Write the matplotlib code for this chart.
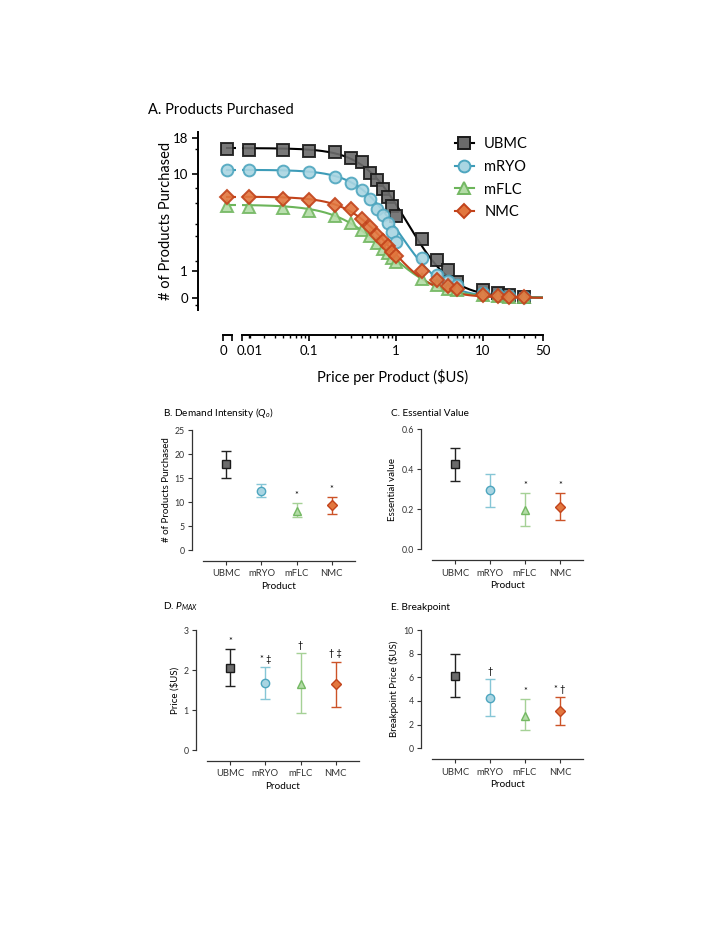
import numpy as np
import matplotlib
matplotlib.use('Agg')
import matplotlib.pyplot as plt
from matplotlib.lines import Line2D
from matplotlib.ticker import NullFormatter

plt.rcParams['font.family'] = ['Lato', 'DejaVu Sans']
plt.rcParams['mathtext.fontset'] = 'custom'
plt.rcParams['mathtext.it'] = 'Lato:italic'
plt.rcParams['mathtext.rm'] = 'Lato'

# ---- data ----
products = ['UBMC', 'mRYO', 'mFLC', 'NMC']
prices = [0, 0.02, 0.05, 0.1, 0.2, 0.3, 0.4, 0.5, 0.6, 0.7, 0.8, 0.9,
          1, 2, 3, 4, 5, 10, 15, 20, 30]

ubmc_q = [15.0, 14.9, 14.9, 14.6, 14.3, 13.1, 12.2, 10.3, 9.1, 7.8, 6.7, 5.7,
          4.7, 2.84, 1.57, 1.04, 0.54, 0.27, 0.16, 0.10, 0.03]
mryo_q = [10.7, 10.8, 10.6, 10.45, 9.66, 8.64, 7.7, 6.5, 5.4, 4.8, 4.1, 3.3,
          2.59, 1.66, 0.85, 0.58, 0.45, 0.15, 0.08, 0.06, 0.03]
mflc_q = [5.66, 5.6, 5.5, 5.14, 4.66, 4.1, 3.5, 3.0, 2.55, 2.17, 1.93, 1.66,
          1.43, 0.68, 0.45, 0.3, 0.25, 0.1, 0.06, 0.04, 0.02]
nmc_q = [6.75, 6.75, 6.5, 6.4, 5.85, 5.4, 4.4, 3.7, 3.1, 2.65, 2.33, 1.97,
         1.74, 1.0, 0.65, 0.4, 0.3, 0.1, 0.05, 0.03, 0.02]

# fitted curve parameters (top, half-point price, slope)
fit_top = [15.3, 10.8, 5.85, 6.8]
fit_ec50 = [0.77, 0.68, 0.51, 0.57]
fit_hill = [1.8, 1.8, 1.5, 1.75]

# panels B-E: mean, lower and upper CI
q0_mean = [17.9, 12.35, 8.1, 9.4]
q0_lo = [15.1, 11.0, 6.8, 7.6]
q0_hi = [20.7, 13.8, 9.7, 11.1]
q0_marks = ['', '', '*', '*']

ev_mean = [0.425, 0.295, 0.197, 0.213]
ev_lo = [0.343, 0.213, 0.118, 0.147]
ev_hi = [0.505, 0.375, 0.28, 0.283]
ev_marks = ['', '', '*', '*']

pmax_mean = [2.06, 1.67, 1.65, 1.65]
pmax_lo = [1.59, 1.27, 0.92, 1.08]
pmax_hi = [2.52, 2.08, 2.42, 2.21]
pmax_marks = ['*', '* \u2021', '\u2020', '\u2020 \u2021']

bp_mean = [6.14, 4.28, 2.76, 3.18]
bp_lo = [4.36, 2.76, 1.55, 1.94]
bp_hi = [7.95, 5.83, 4.14, 4.36]
bp_marks = ['', '\u2020', '*', '* \u2020']

# ---- styles ----
markers = ['s', 'o', '^', 'D']
fills = ['#6b6b6b', '#a9d5e2', '#b3dca6', '#e2773f']
edges = ['#1a1a1a', '#4ea6bf', '#74b863', '#c2431b']
lines = ['#000000', '#3d9cb8', '#6cb55a', '#c2431b']
bars = ['#222222', '#86c6d6', '#a5d196', '#cc5328']
msize = [8.5, 8.5, 8.5, 6.8]

W, H = 728, 942
fig = plt.figure(figsize=(W / 100, H / 100), dpi=100)


def box(x0, y0, x1, y1):
    return [x0 / W, 1 - y1 / H, (x1 - x0) / W, (y1 - y0) / H]


def fwd(y):
    return np.log10(np.clip(np.asarray(y, float) + 2.3, 1e-9, None))


def inv(t):
    return 10 ** np.asarray(t, float) - 2.3


def demand(c, top, ec, h):
    c = np.asarray(c, float)
    return top / (1 + (c / ec) ** h)


# ---- A. products purchased (broken x axis) ----
ax_z = fig.add_axes(box(198.3, 132, 236, 310))
ax_l = fig.add_axes(box(241.7, 132, 543.3, 310))
for a in (ax_z, ax_l):
    a.set_yscale('function', functions=(fwd, inv))
    a.set_ylim(-0.35, 19.6)
    a.patch.set_alpha(0)
    a.spines['top'].set_visible(False)
    a.spines['right'].set_visible(False)
    a.spines['bottom'].set_position(('outward', 18))
    for s in a.spines.values():
        s.set_linewidth(1.4)
    a.tick_params(width=1.2, length=4.5, labelsize=9.5, pad=3)
    a.tick_params(which='minor', width=1.0, length=2.5)

ax_l.spines['left'].set_visible(False)
ax_l.tick_params(axis='y', which='both', left=False, labelleft=False)

ax_z.set_xlim(-1, 0.3)
ax_z.spines['bottom'].set_bounds(-0.15, 0.15)
ax_z.set_xticks([-0.15, 0.15])
ax_z.set_xticklabels(['', ''])
ax_z.set_xticks([-0.12], minor=True)
ax_z.set_xticklabels(['0'], minor=True)
ax_z.tick_params(axis='x', which='minor', length=0, pad=7.5, labelsize=9.5)
ax_z.set_yticks([0, 1, 10, 18])
ax_z.set_yticklabels(['0', '1', '10', '18'])
ax_z.set_yticks([-0.2, 1.5, 3, 4, 6, 8, 15], minor=True)
ax_z.set_ylabel('# of Products Purchased', fontsize=10.5, labelpad=0)

ax_l.set_xscale('log')
x_lo = 0.0166
ax_l.set_xlim(x_lo, 50)
ax_l.set_xticks([x_lo, 0.1, 1, 10, 50])
ax_l.set_xticklabels(['', '0.1', '1', '10', '50'])
ax_l.set_xticks(list(ax_l.get_xticks(minor=True)) + [0.0205], minor=True)
ax_l.xaxis.set_minor_formatter(NullFormatter())
ax_l.set_xlim(x_lo, 50)
ax_l.set_xlabel('Price per Product ($US)', fontsize=10.5, labelpad=8)
# label of the first log tick sits a little right of the axis start
ax_l.annotate('0.01', (0.0205, 0), xycoords=('data', 'axes fraction'),
              xytext=(0, -29.5), textcoords='offset points', ha='center',
              va='center', fontsize=9.5, annotation_clip=False)

prices_arr = np.array(prices, float)
zero = prices_arr == 0
pos = ~zero
curve_c = np.geomspace(x_lo, 50, 300)
series = [ubmc_q, mryo_q, mflc_q, nmc_q]
for i in reversed(range(len(products))):
    q = np.array(series[i])
    style = dict(marker=markers[i], ms=msize[i], mfc=fills[i], mec=edges[i],
                 mew=1.4, linestyle='none', alpha=0.9, zorder=3 + i, clip_on=False)
    top0 = demand(0.0, fit_top[i], fit_ec50[i], fit_hill[i])
    ax_z.plot([0, 0.3], [top0, top0], color=lines[i], lw=1.5, zorder=2 + i)
    ax_z.plot(np.zeros(zero.sum()), q[zero], **style)
    ax_l.plot(curve_c, demand(curve_c, fit_top[i], fit_ec50[i], fit_hill[i]),
              color=lines[i], lw=1.5, zorder=2 + i)
    ax_l.plot(prices_arr[pos], q[pos], **style)

handles = [Line2D([], [], color=lines[i], lw=1.5, marker=markers[i], ms=msize[i],
                  mfc=fills[i], mec=edges[i], mew=1.4) for i in range(len(products))]
fig.legend(handles, products, loc='upper left', bbox_to_anchor=(455 / W, 1 - 137 / H),
           frameon=False, fontsize=10.5, handlelength=1.3, handletextpad=0.7,
           labelspacing=0.6, borderaxespad=0, borderpad=0)

fig.text(148 / W, 1 - 110 / H, 'A. Products Purchased', fontsize=10.5, va='center')


# ---- B-E dot plots ----
def dot_panel(rect, means, lo, hi, marks, ylim, yticks, ylabel, title, title_xy):
    ax = fig.add_axes(box(*rect))
    x = np.arange(len(products))
    for i in range(len(products)):
        ax.errorbar(x[i], means[i], yerr=[[means[i] - lo[i]], [hi[i] - means[i]]],
                    fmt=markers[i], ms=6 if markers[i] != 'D' else 5, mfc=fills[i],
                    mec=edges[i], mew=1.0, ecolor=bars[i], elinewidth=1.0,
                    capsize=3.5, capthick=1.0, zorder=3)
        if marks[i]:
            ax.annotate(marks[i], (x[i], hi[i]), xytext=(0, 5.5),
                        textcoords='offset points', ha='center', va='center',
                        fontsize=6.5)
    ax.set_xlim(-0.67, 3.67)
    ax.set_ylim(*ylim)
    ax.set_yticks(yticks)
    ax.set_xticks(x)
    ax.set_xticklabels(products)
    for s in ('top', 'right'):
        ax.spines[s].set_visible(False)
    ax.spines['left'].set_position(('outward', 8))
    ax.spines['bottom'].set_position(('outward', 8))
    for s in ('left', 'bottom'):
        ax.spines[s].set_linewidth(0.9)
        ax.spines[s].set_color('#333333')
    ax.tick_params(width=0.8, length=3, labelsize=6.3, pad=2, colors='#333333')
    ax.tick_params(axis='x', labelsize=6.8, pad=3)
    ax.set_ylabel(ylabel, fontsize=7, labelpad=3)
    ax.set_xlabel('Product', fontsize=7.2, labelpad=2.5)
    fig.text(title_xy[0] / W, 1 - title_xy[1] / H, title, fontsize=7.2, va='center')
    return ax


dot_panel((203, 430, 355, 550), q0_mean, q0_lo, q0_hi, q0_marks, (0, 25),
          [0, 5, 10, 15, 20, 25], '# of Products Purchased',
          'B. Demand Intensity ($Q_o$)', (163, 413))
axc = dot_panel((431.7, 429.3, 583.3, 549.3), ev_mean, ev_lo, ev_hi, ev_marks,
                (0, 0.6), [0.0, 0.2, 0.4, 0.6], 'Essential value',
                'C. Essential Value', (391, 413))
axc.set_yticklabels(['0.0', '0.2', '0.4', '0.6'])
dot_panel((206.7, 630, 359.3, 750), pmax_mean, pmax_lo, pmax_hi, pmax_marks, (0, 3),
          [0, 1, 2, 3], 'Price ($US)', 'D. $P_{MAX}$', (163, 607))
dot_panel((431.7, 630, 583.3, 748.3), bp_mean, bp_lo, bp_hi, bp_marks, (0, 10),
          [0, 2, 4, 6, 8, 10], 'Breakpoint Price ($US)', 'E. Breakpoint', (391, 607))

fig.savefig('out.png', dpi=100)
